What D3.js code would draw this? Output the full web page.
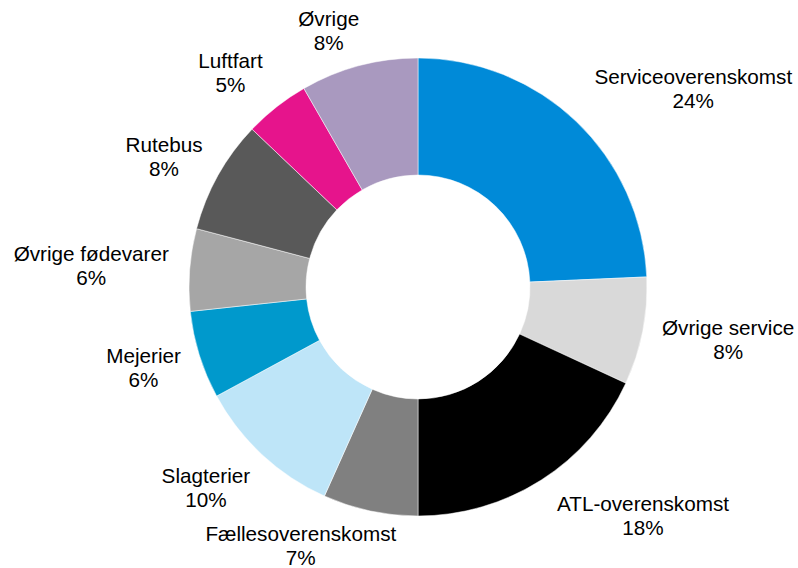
<!DOCTYPE html>
<meta charset="utf-8">
<title>Fordeling</title>
<style>
  body { margin: 0; background: white; }
  svg { display: block; font-family: "Liberation Sans", Arial, sans-serif; }
  .lbl { font-size: 20.7px; fill: #000; }
</style>
<body>
<div id="chart"></div>
<script src="https://d3js.org/d3.v7.min.js"></script>
<script>
// data, clockwise from 12 o'clock
var categories = ["Serviceoverenskomst", "Øvrige service", "ATL-overenskomst", "Fællesoverenskomst",
  "Slagterier", "Mejerier", "Øvrige fødevarer", "Rutebus", "Luftfart", "Øvrige"];
var shares = [24.3, 7.6, 18.1, 6.7, 10.4, 6.2, 5.8, 8.0, 4.6, 8.3];
var colors = ["#008ad8", "#d9d9d9", "#000000", "#808080", "#bee5f8",
  "#0099cc", "#a6a6a6", "#595959", "#e6148c", "#a999bf"];

var width = 798, height = 568;
var cx = 418, cy = 287, outerR = 229, innerR = 112;

// small hand tweaks so labels sit where the original put them
var nudge = {
  "Serviceoverenskomst": [34, 0],
  "ATL-overenskomst": [44, -2],
  "Fællesoverenskomst": [-45, -9],
  "Slagterier": [-12, 0],
  "Rutebus": [-2, 4],
  "Luftfart": [-13, 2],
  "Øvrige": [-17, 9]
};

var data = categories.map(function(c, i) { return {name: c, value: shares[i], color: colors[i]}; });

var svg = d3.select("#chart").append("svg")
  .attr("width", width)
  .attr("height", height);

var g = svg.append("g").attr("transform", "translate(" + cx + "," + cy + ")");

var pie = d3.pie().sort(null).value(function(d) { return d.value; });
var arc = d3.arc().innerRadius(innerR).outerRadius(outerR);
var arcs = pie(data);

g.selectAll("path")
  .data(arcs)
  .enter().append("path")
    .attr("d", arc)
    .attr("fill", function(d) { return d.data.color; })
    .attr("stroke", "white")
    .attr("stroke-width", 0.5);

// labels: anchor just outside the ring, then shift the text box away from centre
var labelR = 250, lineH = 24;
var labels = g.selectAll("text.lbl")
  .data(arcs)
  .enter().append("text")
    .attr("class", "lbl")
    .attr("text-anchor", "middle");

labels.append("tspan").attr("x", 0).attr("dy", "-0.25em").text(function(d) { return d.data.name; });
labels.append("tspan").attr("x", 0).attr("dy", lineH).text(function(d) { return Math.round(d.data.value) + "%"; });

labels.each(function(d) {
  var a = (d.startAngle + d.endAngle) / 2;
  var bb = this.getBBox();
  var x = labelR * Math.sin(a) + Math.sin(a) * bb.width / 2;
  var y = -labelR * Math.cos(a) - Math.cos(a) * lineH;
  var n = nudge[d.data.name] || [0, 0];
  x += n[0]; y += n[1];
  d3.select(this).attr("transform", "translate(" + x + "," + y + ")");
});
</script>
</body>
